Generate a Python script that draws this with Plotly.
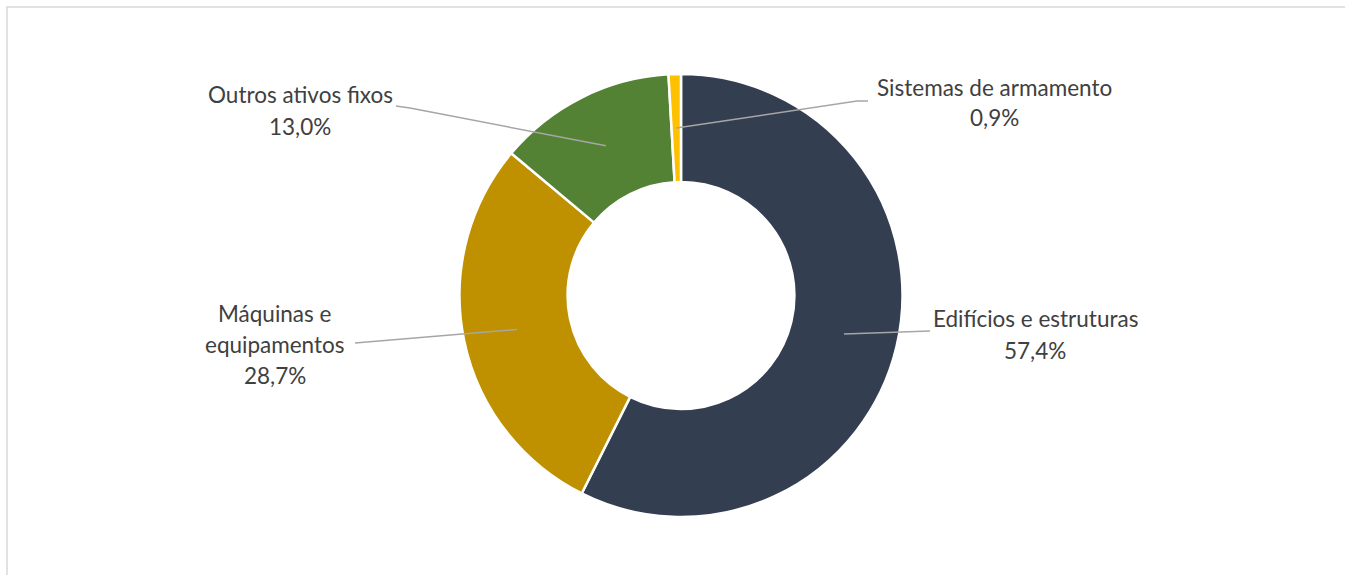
import plotly.graph_objects as go
import math

# ---- data ----
categories = ["Edifícios e estruturas", "Máquinas e equipamentos", "Outros ativos fixos", "Sistemas de armamento"]
values = [57.4, 28.7, 13.0, 0.9]
label_lines = [["Edifícios e estruturas"], ["Máquinas e", "equipamentos"], ["Outros ativos fixos"], ["Sistemas de armamento"]]
colors = ["#333F50", "#BF9000", "#548235", "#FFC000"]

# ---- layout geometry (pixels) ----
W, H = 1345, 575
ML, MR, MT, MB = 17, 0, 74, 58
PW, PH = W - ML - MR, H - MT - MB
R_OUT = min(PW, PH) / 2
HOLE = 0.512
CX, CY = ML + PW / 2, MT + PH / 2


def px2paper(x, y):
    return (x - ML) / PW, 1 - (y - MT) / PH


# label layout: center x, first line y, line spacing, elbow points
label_pos = [
    dict(cx=1035, y0=318, dy=32, elbow=[(930, 331)]),
    dict(cx=275, y0=313, dy=31, elbow=[(355, 343)]),
    dict(cx=300, y0=95, dy=31, elbow=[(410, 108), (396, 106)]),
    dict(cx=994, y0=87, dy=30, elbow=[(857, 101), (868, 101)]),
]

fig = go.Figure()
fig.add_trace(go.Pie(
    labels=categories, values=values, sort=False, direction="clockwise", rotation=0,
    hole=HOLE, marker=dict(colors=colors, line=dict(color="white", width=2.5)),
    textinfo="none", hoverinfo="label+percent", showlegend=False,
    domain=dict(x=[0, 1], y=[0, 1]),
))

total = sum(values)
cum = 0
shapes = []
annotations = []
r_mid = R_OUT * (1 + HOLE) / 2
for i, v in enumerate(values):
    mid = (cum + v / 2) / total * 2 * math.pi
    cum += v
    sx = CX + r_mid * math.sin(mid)
    sy = CY - r_mid * math.cos(mid)
    pts = [(sx, sy)] + label_pos[i]["elbow"]
    for (x0, y0), (x1, y1) in zip(pts[:-1], pts[1:]):
        a0, b0 = px2paper(x0, y0)
        a1, b1 = px2paper(x1, y1)
        shapes.append(dict(type="line", xref="paper", yref="paper", x0=a0, y0=b0, x1=a1, y1=b1,
                           line=dict(color="#A6A6A6", width=1.5)))
    lines = label_lines[i] + [f"{v:.1f}".replace(".", ",") + "%"]
    lp = label_pos[i]
    for j, t in enumerate(lines):
        ax, ay = px2paper(lp["cx"], lp["y0"] + j * lp["dy"])
        annotations.append(dict(text=t, x=ax, y=ay, xref="paper", yref="paper", showarrow=False,
                                xanchor="center", yanchor="middle",
                                font=dict(family="Lato", size=22.5, color="#404040")))

# outer frame
fx0, fy0 = px2paper(7, 7)
fx1, fy1 = px2paper(W + 5, H + 5)
shapes.append(dict(type="rect", xref="paper", yref="paper", x0=fx0, y0=fy0, x1=fx1, y1=fy1,
                   line=dict(color="#D9D9D9", width=1.5), fillcolor="rgba(0,0,0,0)"))

fig.update_layout(
    width=W, height=H, margin=dict(l=ML, r=MR, t=MT, b=MB),
    paper_bgcolor="white", plot_bgcolor="white",
    shapes=shapes, annotations=annotations,
)
fig.write_html("out.html")
